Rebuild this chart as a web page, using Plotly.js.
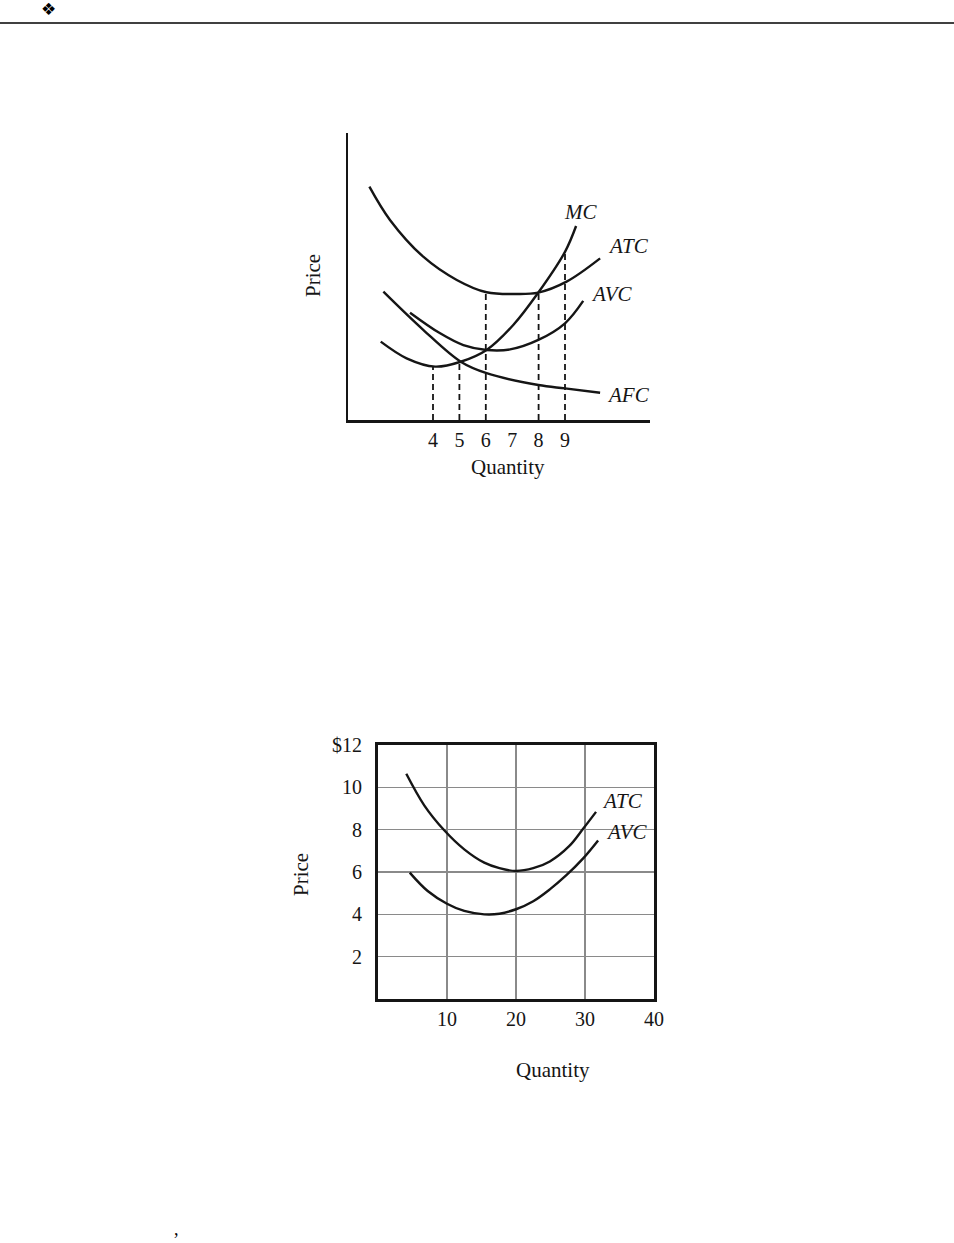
<!DOCTYPE html>
<html>
<head>
<meta charset="utf-8">
<script src="https://cdn.plot.ly/plotly-3.0.1.min.js"></script>
<style>html,body{margin:0;padding:0;background:#fff;}#chart{width:954px;height:1243px;}</style>
</head>
<body>
<div id="chart"></div>
<script>
// ---- Chart 1: cost curves (qualitative) ----
const atcQ = [1.59, 2.37, 3.63, 4.90, 6.03, 7.17, 7.99, 9.06, 10.33];
const atcP = [8.13, 6.97, 5.69, 4.88, 4.45, 4.39, 4.44, 4.82, 5.63];
const mcQ  = [2.02, 3.0, 4.08, 5.05, 6.03, 7.04, 7.99, 9.0, 9.42];
const mcP  = [2.73, 2.15, 1.86, 2.03, 2.44, 3.31, 4.44, 5.86, 6.76];
const avcQ = [3.13, 4.27, 5.15, 6.03, 6.92, 7.99, 9.0, 9.69];
const avcP = [3.74, 3.02, 2.61, 2.44, 2.46, 2.79, 3.37, 4.15];
const afcQ = [2.12, 3.63, 5.05, 6.03, 7.99, 9.0, 10.33];
const afcP = [4.47, 3.14, 2.03, 1.63, 1.22, 1.10, 0.95];
const dashQ = [4, 5, 6, 8, 9];
const dashTop = [1.86, 2.03, 4.45, 4.44, 5.86];
const qTicks1 = [4, 5, 6, 7, 8, 9];

// ---- Chart 2: ATC / AVC with grid ----
const atc2Q = [4.1, 6.7, 9.6, 12.5, 15.4, 17.6, 20, 22.5, 24.9, 27.7, 29.7, 31.6];
const atc2P = [10.64, 9.15, 7.97, 7.07, 6.44, 6.18, 6.05, 6.18, 6.5, 7.22, 8.03, 8.84];
const avc2Q = [4.6, 7.2, 10, 12.5, 15.4, 17.6, 20, 22.5, 24.9, 27.3, 29.7, 31.9];
const avc2P = [5.97, 5.1, 4.5, 4.16, 4.0, 4.03, 4.24, 4.62, 5.18, 5.85, 6.63, 7.49];
const xTicks2 = [10, 20, 30, 40];
const yTicks2 = [2, 4, 6, 8, 10, 12];
const yTickText2 = ['2', '4', '6', '8', '10', '$12'];

const W = 954, H = 1243;
const px = v => v / W;
const py = v => 1 - v / H;
const serif = 'Liberation Serif, Times New Roman, serif';
const ink = '#151515';

function curve(x, y, xa, ya) {
  return {x: x, y: y, xaxis: xa, yaxis: ya, mode: 'lines', type: 'scatter',
    line: {color: ink, width: 2.4, shape: 'spline', smoothing: 1}, hoverinfo: 'skip', showlegend: false};
}

const dx = [], dy = [];
dashQ.forEach((q, i) => { dx.push(q, q, null); dy.push(0, dashTop[i], null); });

const traces = [
  curve(atcQ, atcP, 'x', 'y'),
  curve(mcQ, mcP, 'x', 'y'),
  curve(avcQ, avcP, 'x', 'y'),
  curve(afcQ, afcP, 'x', 'y'),
  {x: dx, y: dy, xaxis: 'x', yaxis: 'y', mode: 'lines', type: 'scatter',
   line: {color: ink, width: 1.8, dash: '6px,4px'}, hoverinfo: 'skip', showlegend: false},
  curve(atc2Q, atc2P, 'x2', 'y2'),
  curve(avc2Q, avc2P, 'x2', 'y2')
];

const x1lo = 4 + (348 - 433) / 26.4, x1hi = 4 + (650 - 433) / 26.4;

function lab(x, y, text, extra) {
  return Object.assign({xref: 'paper', yref: 'paper', x: px(x), y: py(y), text: text,
    showarrow: false, xanchor: 'center', yanchor: 'middle', font: {family: serif, size: 21, color: ink}}, extra || {});
}

const layout = {
  width: W, height: H,
  margin: {l: 0, r: 0, t: 0, b: 0},
  paper_bgcolor: '#fff', plot_bgcolor: 'rgba(0,0,0,0)',
  showlegend: false,
  font: {family: serif, color: ink},
  xaxis: {domain: [px(348), px(650)], range: [x1lo, x1hi], anchor: 'y',
    showgrid: false, zeroline: false, showline: true, linecolor: ink, linewidth: 2.5,
    tickvals: qTicks1, ticks: '', tickfont: {family: serif, size: 20, color: ink}, fixedrange: true},
  yaxis: {domain: [py(420), py(133)], range: [0, 10], anchor: 'x',
    showgrid: false, zeroline: false, showline: true, linecolor: ink, linewidth: 2.5,
    showticklabels: false, ticks: '', fixedrange: true},
  xaxis2: {domain: [px(378), px(654)], range: [0, 40], anchor: 'y2',
    showgrid: true, gridcolor: '#8a8a8a', gridwidth: 1.3, zeroline: false,
    showline: true, mirror: true, linecolor: ink, linewidth: 3,
    tickvals: xTicks2, ticks: '', tickfont: {family: serif, size: 20, color: ink}, fixedrange: true},
  yaxis2: {domain: [py(999), py(745)], range: [0, 12], anchor: 'x2',
    showgrid: true, gridcolor: '#8a8a8a', gridwidth: 1.3, zeroline: false,
    showline: true, mirror: true, linecolor: ink, linewidth: 3,
    tickvals: yTicks2, ticktext: yTickText2, ticks: '', ticklabelstandoff: 9,
    tickfont: {family: serif, size: 20, color: ink}, fixedrange: true},
  shapes: [
    {type: 'line', xref: 'paper', yref: 'paper', x0: 0, x1: 1, y0: py(23), y1: py(23),
     line: {color: '#000', width: 1.5}}
  ],
  annotations: [
    lab(48, 9, '❖', {font: {family: 'DejaVu Sans', size: 17, color: '#000'}}),
    lab(176, 1229, ',', {font: {family: serif, size: 18, color: '#000'}}),
    // chart 1 labels
    lab(580, 212, '<i>MC</i>'),
    lab(628, 246, '<i>ATC</i>'),
    lab(612, 294, '<i>AVC</i>'),
    lab(628, 395, '<i>AFC</i>'),
    lab(313, 276, 'Price', {textangle: -90}),
    lab(508, 467, 'Quantity'),
    // chart 2 labels
    lab(622, 801, '<i>ATC</i>'),
    lab(627, 832, '<i>AVC</i>'),
    lab(301, 875, 'Price', {textangle: -90}),
    lab(553, 1070, 'Quantity')
  ]
};

Plotly.newPlot('chart', traces, layout, {displayModeBar: false, staticPlot: true});
</script>
</body>
</html>
